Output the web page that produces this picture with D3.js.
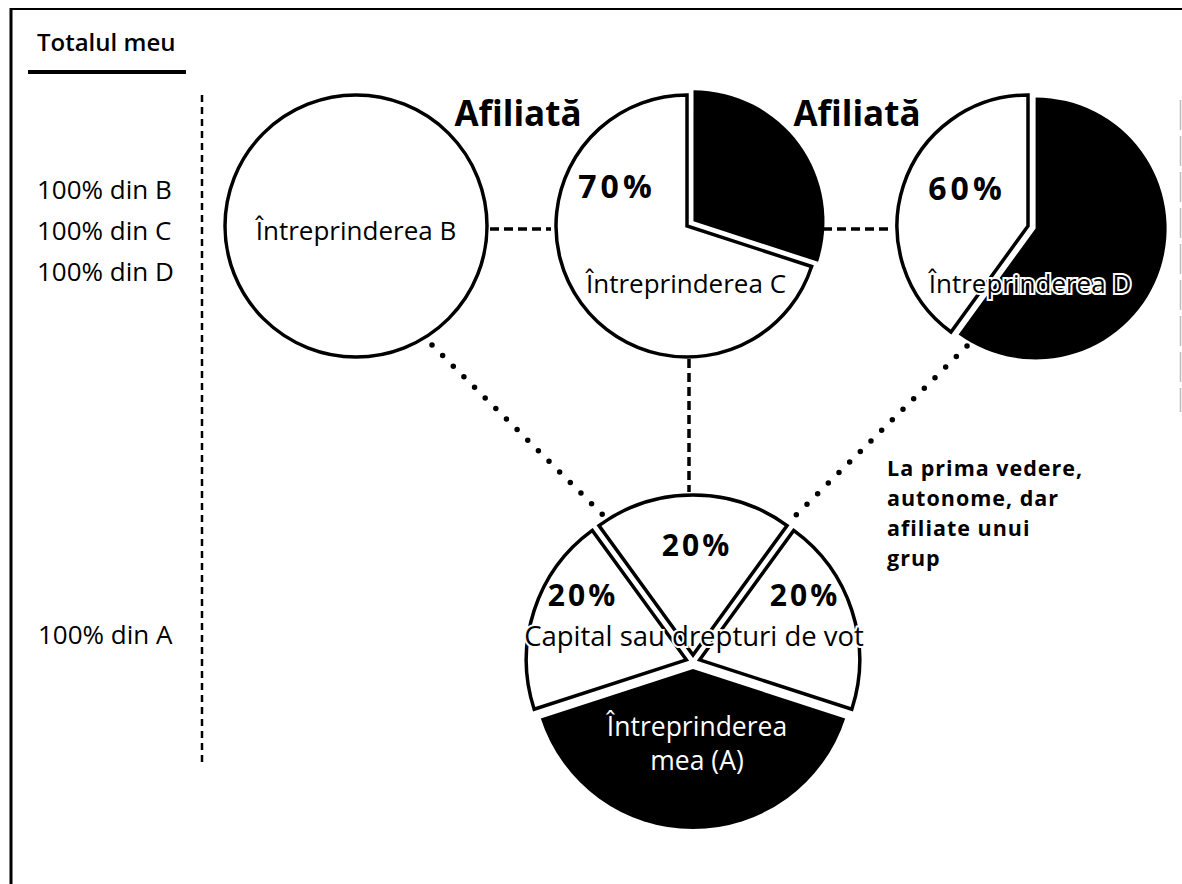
<!DOCTYPE html>
<html>
<head>
<meta charset="utf-8">
<script src="https://cdn.jsdelivr.net/npm/d3@7"></script>
<style>
  body { margin: 0; background: #fff; }
  svg { display: block; font-family: "Open Sans", sans-serif; }
</style>
</head>
<body>
<script>
const w = 1182;
const h = 884;

// top row of enterprises: white = share held, dark = the rest
const companies = ["Întreprinderea B", "Întreprinderea C", "Întreprinderea D"];
const whiteShares = [100, 70, 40];
const darkShares = [0, 30, 60];
const shareLabels = ["", "70%", "60%"];
const rowLabels = ["100% din B", "100% din C", "100% din D"];

// bottom pie: my enterprise (A)
const aSlices = ["left", "top", "right", "mine"];
const aValues = [20, 20, 20, 40];
const aLabels = ["20%", "20%", "20%", ""];
const noteLines = ["La prima vedere,", "autonome, dar", "afiliate unui", "grup"];

const svg = d3.select("body").append("svg").attr("width", w).attr("height", h);

/* frame */
svg.append("line").attr("x1", 10).attr("x2", w).attr("y1", 9).attr("y2", 9)
  .attr("stroke", "#000").attr("stroke-width", 2);
svg.append("line").attr("x1", 11).attr("x2", 11).attr("y1", 8).attr("y2", h)
  .attr("stroke", "#000").attr("stroke-width", 3);
svg.append("line").attr("x1", w - 1.5).attr("x2", w - 1.5).attr("y1", 100).attr("y2", 412)
  .attr("stroke", "#bbb").attr("stroke-width", 1.5).attr("stroke-dasharray", "30,6");

/* left column */
svg.append("text").attr("x", 37).attr("y", 41).attr("dominant-baseline", "central")
  .attr("font-size", 24).attr("font-weight", 600).text("Totalul meu");
svg.append("line").attr("x1", 28).attr("x2", 186).attr("y1", 72).attr("y2", 72)
  .attr("stroke", "#000").attr("stroke-width", 4);

const rowY = d3.scalePoint().domain(rowLabels).range([189, 271]);
svg.selectAll(".row").data(rowLabels).enter().append("text")
  .attr("class", "row")
  .attr("x", 37)
  .attr("y", (d) => rowY(d))
  .attr("dominant-baseline", "central")
  .attr("font-size", 26)
  .text((d) => d);
svg.append("text").attr("x", 38).attr("y", 634).attr("dominant-baseline", "central")
  .attr("font-size", 26).text("100% din A");

svg.append("line").attr("x1", 202).attr("x2", 202).attr("y1", 95).attr("y2", 764)
  .attr("stroke", "#000").attr("stroke-width", 2.5).attr("stroke-dasharray", "7,5");

/* top pies */
const cx = d3.scaleOrdinal().domain(companies).range([356, 687, 1028]);
const cy = 226;
const r = 131;
const arc = d3.arc().innerRadius(0).outerRadius(r);
const pie = d3.pie().sort(null).value((d) => d.v);

// connectors between the circles
const dash = (x1, y1, x2, y2, pattern, width, cap) =>
  svg.append("line").attr("x1", x1).attr("y1", y1).attr("x2", x2).attr("y2", y2)
    .attr("stroke", "#000").attr("stroke-width", width)
    .attr("stroke-dasharray", pattern).attr("stroke-linecap", cap || "butt");

dash(cx(companies[0]) + r + 3, 229, cx(companies[1]) - r - 5, 229, "9,5", 3.5);
dash(cx(companies[1]) + r + 5, 229, cx(companies[2]) - r - 5, 229, "9,5", 3.5);
dash(689, cy + r + 2, 689, 492, "9,5", 3.5);
dash(432, 345, 603, 515, "0,15", 5.5, "round");
dash(967, 346, 793, 518, "0,15", 5.5, "round");

companies.forEach((c, i) => {
  const g = svg.append("g").attr("transform", `translate(${cx(c)},${cy})`);
  const slices = pie([
    { k: "dark", v: darkShares[i] },
    { k: "white", v: whiteShares[i] },
  ]).filter((s) => s.data.v > 0);
  g.selectAll("path").data(slices).enter().append("path")
    .attr("d", arc)
    .attr("transform", (s) => {
      if (s.data.k !== "dark") return null;
      const m = (s.startAngle + s.endAngle) / 2;
      return `translate(${Math.sin(m) * 8},${-Math.cos(m) * 8})`;
    })
    .attr("fill", (s) => (s.data.k === "dark" ? "#000" : "#fff"))
    .attr("stroke", (s) => (s.data.k === "dark" ? "none" : "#000"))
    .attr("stroke-width", 3.5)
    .attr("stroke-linejoin", "miter");

  g.append("text")
    .attr("x", i === 0 ? 0 : i === 1 ? -1 : 2)
    .attr("y", i === 0 ? 4 : 57)
    .attr("text-anchor", "middle")
    .attr("dominant-baseline", "central")
    .attr("font-size", 26)
    .attr("fill", "#000")
    .attr("stroke", "#fff").attr("stroke-width", 4).attr("paint-order", "stroke")
    .text(c);

  if (shareLabels[i]) {
    g.append("text")
      .attr("x", i === 1 ? -70 : -61)
      .attr("y", i === 1 ? -41 : -39)
      .attr("text-anchor", "middle")
      .attr("dominant-baseline", "central")
      .attr("font-size", 32).attr("font-weight", 700).attr("letter-spacing", 4)
      .text(shareLabels[i]);
  }
});

svg.selectAll(".afil").data(companies.slice(0, 2)).enter().append("text")
  .attr("class", "afil")
  .attr("x", (d, i) => (i === 0 ? 518 : 857))
  .attr("y", 112)
  .attr("text-anchor", "middle")
  .attr("dominant-baseline", "central")
  .attr("font-size", 35).attr("font-weight", 700)
  .text("Afiliată");

/* bottom pie (A) */
const ax = 693, ay = 662, ar = 160, boom = 7;
const aArc = d3.arc().innerRadius(0).outerRadius(ar);
const aPie = d3.pie().sort(null).startAngle(-0.6 * Math.PI).endAngle(1.4 * Math.PI);
const ag = svg.append("g").attr("transform", `translate(${ax},${ay})`);
ag.selectAll("path").data(aPie(aValues)).enter().append("path")
  .attr("d", aArc)
  .attr("transform", (s) => {
    const m = (s.startAngle + s.endAngle) / 2;
    return `translate(${Math.sin(m) * boom},${-Math.cos(m) * boom})`;
  })
  .attr("fill", (s, i) => (aSlices[i] === "mine" ? "#000" : "#fff"))
  .attr("stroke", (s, i) => (aSlices[i] === "mine" ? "none" : "#000"))
  .attr("stroke-width", 3.5);

const labelPos = { left: [-110, -68], top: [4, -118], right: [112, -68] };
aSlices.forEach((k, i) => {
  if (!aLabels[i]) return;
  ag.append("text")
    .attr("x", labelPos[k][0]).attr("y", labelPos[k][1])
    .attr("text-anchor", "middle").attr("dominant-baseline", "central")
    .attr("font-size", 30).attr("font-weight", 700).attr("letter-spacing", 3)
    .text(aLabels[i]);
});
ag.append("text").attr("x", 1).attr("y", -27)
  .attr("text-anchor", "middle").attr("dominant-baseline", "central")
  .attr("font-size", 27.5)
  .attr("stroke", "#fff").attr("stroke-width", 4).attr("paint-order", "stroke")
  .text("Capital sau drepturi de vot");
ag.append("text").attr("x", 4).attr("y", 64)
  .attr("text-anchor", "middle").attr("dominant-baseline", "central")
  .attr("font-size", 26.5).attr("fill", "#fff").text("Întreprinderea");
ag.append("text").attr("x", 4).attr("y", 98)
  .attr("text-anchor", "middle").attr("dominant-baseline", "central")
  .attr("font-size", 26.5).attr("fill", "#fff").text("mea (A)");

/* note */
svg.selectAll(".note").data(noteLines).enter().append("text")
  .attr("class", "note")
  .attr("x", 887)
  .attr("y", (d, i) => 467 + i * 30)
  .attr("dominant-baseline", "central")
  .attr("font-size", 21.5).attr("font-weight", 700).attr("letter-spacing", 1)
  .text((d) => d);
</script>
</body>
</html>
